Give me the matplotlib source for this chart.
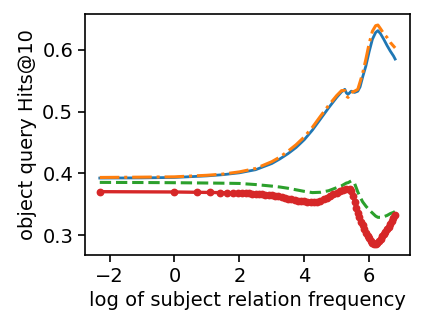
import matplotlib
matplotlib.use("Agg")
import matplotlib.pyplot as plt

# x grid (log of subject relation frequency) for the smooth curves
x_curve = [-2.3, -1.0, 0.0, 1.0, 1.5, 2.0, 2.5, 3.0, 3.25, 3.5, 3.75, 4.0, 4.25, 4.5,
           4.75, 5.0, 5.15, 5.25, 5.3, 5.35, 5.45, 5.55, 5.65, 5.72, 5.8, 5.9, 6.0,
           6.1, 6.2, 6.27, 6.35, 6.45, 6.55, 6.65, 6.75, 6.8]
blue_vals = [0.3925, 0.3928, 0.3935, 0.396, 0.398, 0.401, 0.406, 0.416, 0.4235, 0.432,
             0.442, 0.4545, 0.470, 0.488, 0.506, 0.523, 0.532, 0.536, 0.530, 0.528,
             0.533, 0.531, 0.533, 0.540, 0.556, 0.574, 0.597, 0.617, 0.628, 0.631,
             0.626, 0.617, 0.607, 0.598, 0.590, 0.585]
orange_vals = [0.3935, 0.394, 0.3945, 0.397, 0.399, 0.4025, 0.408, 0.419, 0.4265, 0.436,
               0.4465, 0.459, 0.4745, 0.4925, 0.510, 0.526, 0.534, 0.534, 0.525, 0.523,
               0.531, 0.533, 0.536, 0.548, 0.562, 0.585, 0.610, 0.630, 0.639, 0.640,
               0.634, 0.626, 0.620, 0.612, 0.606, 0.603]
green_vals = [0.3855, 0.3853, 0.385, 0.3845, 0.3842, 0.3838, 0.382, 0.3795, 0.378, 0.376,
              0.3735, 0.371, 0.369, 0.3695, 0.372, 0.377, 0.380, 0.383, 0.3845, 0.385,
              0.388, 0.384, 0.370, 0.362, 0.354, 0.347, 0.341, 0.336, 0.331, 0.329,
              0.329, 0.330, 0.332, 0.335, 0.337, 0.3385]

# x grid for the marked (red) series
x_red = [-2.3, 0.0, 0.69, 1.1, 1.39, 1.61, 1.79, 1.95, 2.08, 2.2, 2.3, 2.4, 2.5, 2.6,
         2.7, 2.8, 2.9, 3.0, 3.1, 3.2, 3.3, 3.4, 3.5, 3.6, 3.7, 3.8, 3.9, 4.0, 4.1,
         4.2, 4.3, 4.4, 4.5, 4.6, 4.7, 4.8, 4.9, 5.0, 5.1, 5.2, 5.3, 5.4, 5.45, 5.5,
         5.55, 5.6, 5.65, 5.7, 5.75, 5.8, 5.85, 5.9, 5.95, 6.0, 6.05, 6.1, 6.15, 6.2,
         6.25, 6.3, 6.35, 6.4, 6.45, 6.5, 6.55, 6.6, 6.65, 6.7, 6.75, 6.8]
red_vals = [0.3705, 0.3700, 0.3695, 0.3692, 0.3690, 0.3688, 0.3686, 0.3684, 0.3683,
            0.3681, 0.3678, 0.3675, 0.3672, 0.3668, 0.3663, 0.3657, 0.3651, 0.3644,
            0.3636, 0.3627, 0.3616, 0.3605, 0.3594, 0.3583, 0.3572, 0.3562, 0.3553,
            0.3546, 0.3540, 0.3537, 0.3537, 0.3545, 0.3560, 0.3580, 0.3605, 0.3630,
            0.3660, 0.3685, 0.3710, 0.3730, 0.3745, 0.3750, 0.3720, 0.3640, 0.3540,
            0.3440, 0.3360, 0.3290, 0.3220, 0.3160, 0.3100, 0.3040, 0.2990, 0.2950,
            0.2910, 0.2880, 0.2862, 0.2860, 0.2875, 0.2900, 0.2935, 0.2980, 0.3020,
            0.3060, 0.3100, 0.3140, 0.3185, 0.3230, 0.3275, 0.3320]

xlabel = "log of subject relation frequency"
ylabel = "object query Hits@10"

plt.rcParams['font.family'] = ['DejaVu Sans']
fig = plt.figure(figsize=(4.23, 3.28), dpi=100)
ax = fig.add_axes([0.201, 0.223, 0.768, 0.734])

ax.plot(x_curve, blue_vals, color='#1f77b4', linestyle='-', linewidth=2.0)
ax.plot(x_curve, orange_vals, color='#ff7f0e', linestyle='-.', linewidth=2.2)
ax.plot(x_curve, green_vals, color='#2ca02c', linestyle='--', linewidth=2.2)
ax.plot(x_red, red_vals, color='#d62728', linestyle='-', linewidth=2.4,
        marker='o', markersize=4.6)

ax.set_xticks([-2, 0, 2, 4, 6])
ax.set_yticks([0.3, 0.4, 0.5, 0.6])
ax.tick_params(labelsize=14, width=1.2, length=5)
for s in ax.spines.values():
    s.set_linewidth(1.2)
ax.set_xlabel(xlabel, fontsize=14)
ax.set_ylabel(ylabel, fontsize=14)

fig.savefig("out.png", dpi=100)
